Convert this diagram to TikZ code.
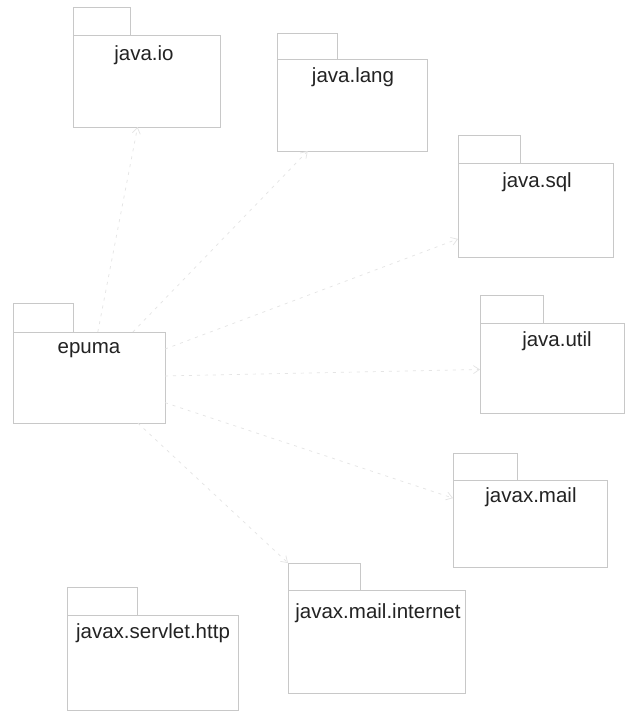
\documentclass[tikz,border=0pt]{standalone}
\usepackage{fontspec}
\setmainfont{Liberation Sans}
\usetikzlibrary{arrows.meta}
\definecolor{pkgline}{RGB}{200,200,200}
\definecolor{depline}{RGB}{228,228,228}
\definecolor{txt}{RGB}{35,35,35}
\tikzset{
  pkg/.style={draw=pkgline, line width=0.7pt, anchor=north west, inner sep=0pt, outer sep=0pt},
  lbl/.style={font=\fontsize{20.5}{24}\selectfont, text=txt, inner sep=0pt},
  dep/.style={draw=depline, line width=0.7pt, dash pattern=on 3pt off 5pt, -{Straight Barb[length=6pt,width=8pt]}}
}
\begin{document}
\begin{tikzpicture}[x=1pt,y=-1pt]
\useasboundingbox[fill=white] (0,0) rectangle (626,712);
% java.io
\node[pkg, minimum width=57, minimum height=28] (ioT) at (73,7) {};
\node[pkg, minimum width=147, minimum height=92] (io) at (73,35) {};
\node[lbl] (ioL) at (144,55) {java.io};
% java.lang
\node[pkg, minimum width=60, minimum height=26] (langT) at (277,33) {};
\node[pkg, minimum width=150, minimum height=92] (lang) at (277,59) {};
\node[lbl] (langL) at (353,77) {java.lang};
% java.sql
\node[pkg, minimum width=62, minimum height=28] (sqlT) at (458,135) {};
\node[pkg, minimum width=155, minimum height=94] (sql) at (458,163) {};
\node[lbl] (sqlL) at (537,182) {java.sql};
% epuma
\node[pkg, minimum width=60, minimum height=29] (epumaT) at (13,303) {};
\node[pkg, minimum width=152, minimum height=91] (epuma) at (13,332) {};
\node[lbl] (epumaL) at (89,350) {epuma};
% java.util
\node[pkg, minimum width=63, minimum height=28] (utilT) at (480,295) {};
\node[pkg, minimum width=144, minimum height=90] (util) at (480,323) {};
\node[lbl] (utilL) at (557,341) {java.util};
% javax.mail
\node[pkg, minimum width=64, minimum height=27] (mailT) at (453,453) {};
\node[pkg, minimum width=154, minimum height=87] (mail) at (453,480) {};
\node[lbl] (mailL) at (531,497) {javax.mail};
% javax.servlet.http
\node[pkg, minimum width=70, minimum height=28] (servT) at (67,587) {};
\node[pkg, minimum width=171, minimum height=95] (serv) at (67,615) {};
\node[lbl] (servL) at (153,633) {javax.servlet.http};
% javax.mail.internet
\node[pkg, minimum width=72, minimum height=27] (intT) at (288,563) {};
\node[pkg, minimum width=177, minimum height=103] (int) at (288,590) {};
\node[lbl] (intL) at (378,613) {javax.mail.internet};
% dependencies
\draw[dep] (epuma) -- (io);
\draw[dep] (epuma) -- (lang);
\draw[dep] (epuma) -- (sql);
\draw[dep] (epuma) -- (util);
\draw[dep] (epuma) -- (mail);
\draw[dep] (epuma) -- (intT.north west);
\end{tikzpicture}
\end{document}
